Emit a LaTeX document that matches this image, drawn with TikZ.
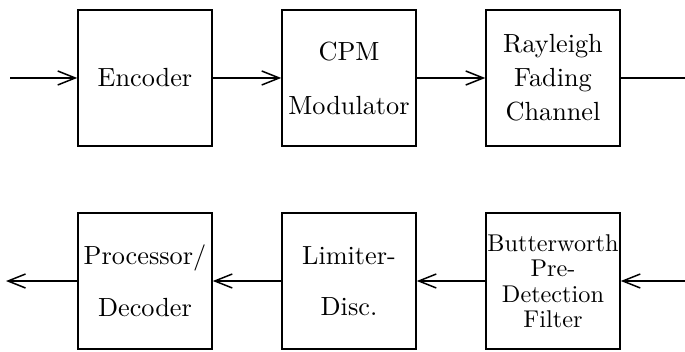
\documentclass[tikz,border=0pt]{standalone}
\usetikzlibrary{arrows.meta}
\begin{document}
\begin{tikzpicture}[x=0.4pt,y=-0.4pt,
  blk/.style={draw,line width=0.6pt,minimum width=53.6pt,minimum height=54.4pt,inner sep=0pt,align=center,font=\fontsize{10.5}{13.6}\selectfont},
  wide/.style={blk,font=\fontsize{9.7}{10.2}\selectfont},
  conn/.style={line width=0.6pt},
  arr/.style={conn,-{Straight Barb[length=7pt,width=5.6pt,line width=0.6pt]}}]
\useasboundingbox (0,0) rectangle (685,352);
\node[blk] (enc) at (145,78) {Encoder};
\node[blk] (cpm) at (349,78) {CPM\\[8pt]Modulator};
\node[blk] (ray) at (553,78) {Rayleigh\\Fading\\Channel};
\node[blk] (proc) at (145,281) {Processor/\\[7pt]Decoder};
\node[blk] (lim) at (349,281) {Limiter-\\[7pt]Disc.};
\node[wide] (but) at (553,281) {Butterworth\\Pre-\\Detection\\Filter};
\coordinate (in) at (10,78);
\coordinate (out) at (685,78);
\coordinate (rin) at (685,281);
\coordinate (rout) at (6,281);
\draw[arr] (in) -- (enc);
\draw[arr] (enc) -- (cpm);
\draw[arr] (cpm) -- (ray);
\draw[conn] (ray) -- (out);
\draw[arr] (rin) -- (but);
\draw[arr] (but) -- (lim);
\draw[arr] (lim) -- (proc);
\draw[arr] (proc) -- (rout);
\end{tikzpicture}
\end{document}
